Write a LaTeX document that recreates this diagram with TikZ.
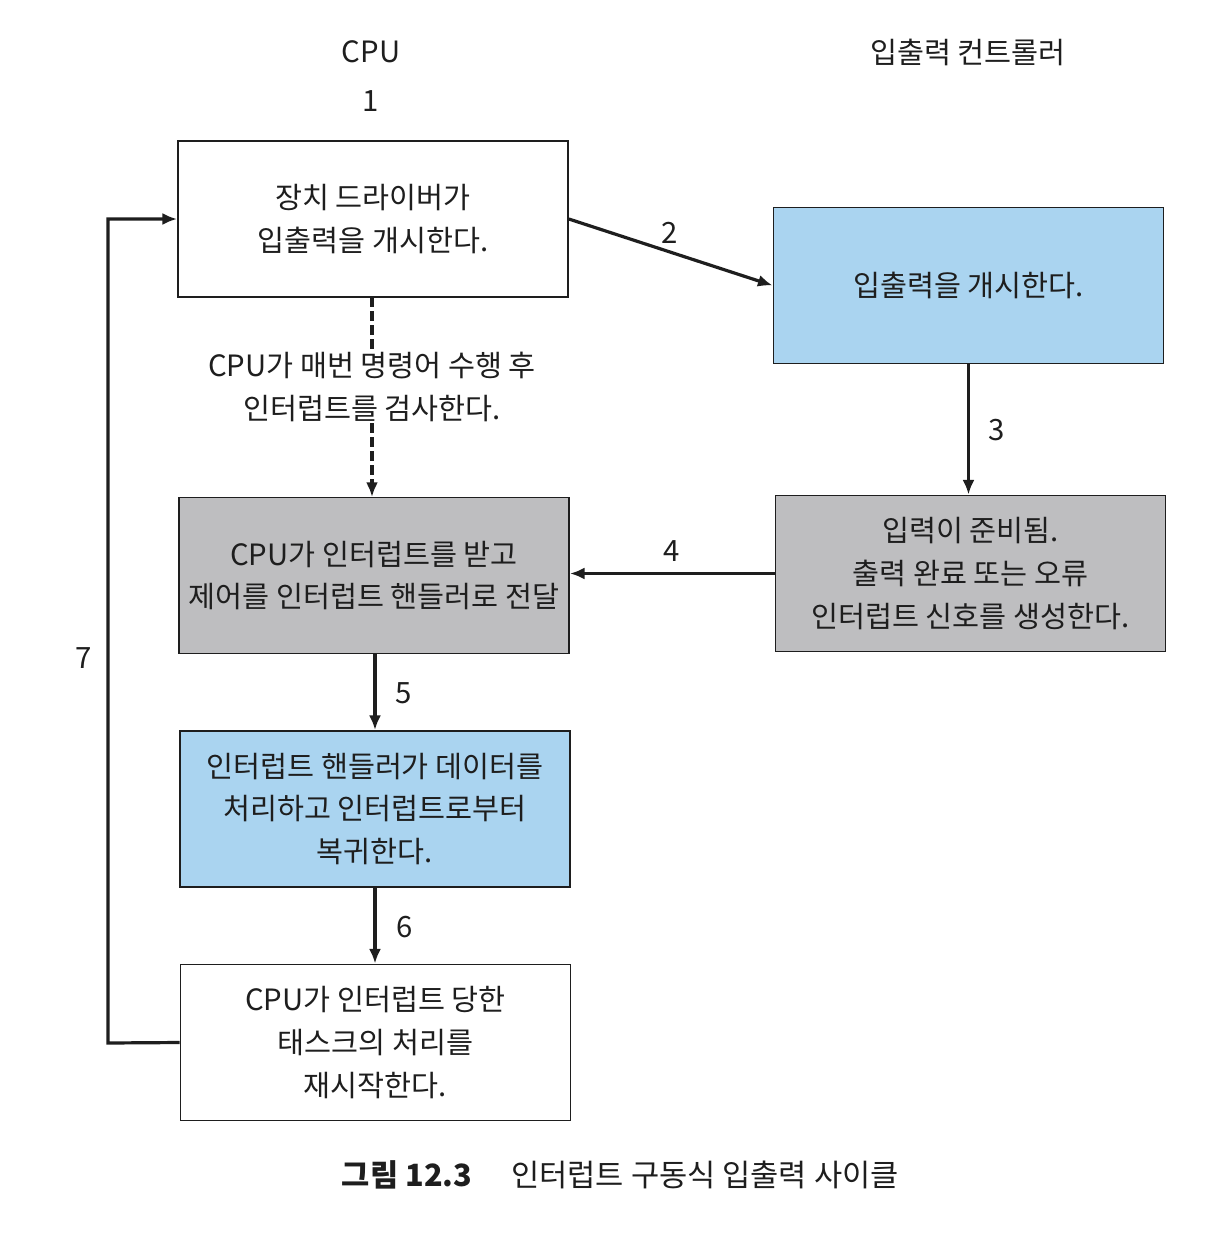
\documentclass[tikz,border=0pt]{standalone}
\usepackage{fontspec}
\setmainfont{Noto Sans CJK KR}
\usetikzlibrary{arrows.meta}
\definecolor{boxblue}{RGB}{170,212,240}
\definecolor{boxgray}{RGB}{190,190,192}
\definecolor{linecol}{RGB}{30,30,30}
\begin{document}
\begin{tikzpicture}[x=0.75pt,y=-0.75pt,
  every node/.style={font=\fontsize{22pt}{32pt}\selectfont, align=center, text=linecol},
  box/.style={draw=linecol, line width=1.3pt, inner sep=0pt, minimum width=292.5pt, minimum height=117pt},
  conn/.style={draw=linecol, line width=2.4pt, -{Latex[length=11pt,width=9pt]}},
  num/.style={font=\fontsize{22pt}{26pt}\selectfont}]
\useasboundingbox (0,0) rectangle (1218,1240);
\fill[white] (0,0) rectangle (1218,1240);

% headers
\node (hcpu) at (371,52) {CPU};
\node[num] (h1) at (371,101) {1};
\node (hio) at (968,52) {입출력 컨트롤러};

% boxes
\node[box, fill=white] (b1) at (373,219) {장치 드라이버가\\입출력을 개시한다.};
\node[box, fill=boxblue] (b2) at (968.5,285.5) {입출력을 개시한다.};
\node[box, fill=boxgray] (b3) at (970.5,573.5) {입력이 준비됨.\\출력 완료 또는 오류\\인터럽트 신호를 생성한다.};
\node[box, fill=boxgray] (b4) at (374,575.5) {CPU가 인터럽트를 받고\\제어를 인터럽트 핸들러로 전달};
\node[box, fill=boxblue] (b5) at (375,809) {인터럽트 핸들러가 데이터를\\처리하고 인터럽트로부터\\복귀한다.};
\node[box, fill=white] (b6) at (375.5,1042.5) {CPU가 인터럽트 당한\\태스크의 처리를\\재시작한다.};

% dashed check
\coordinate (dtop) at (372,297);
\coordinate (dbot) at (372,497);
\draw[draw=linecol, line width=2.4pt, dash pattern=on 7.5pt off 3pt, -{Latex[length=11pt,width=9pt]}] (dtop) -- (dbot);
\node[fill=white, inner sep=1pt] (chk) at (372,387) {CPU가 매번 명령어 수행 후\\인터럽트를 검사한다.};

% connectors
\draw[conn] (b1.east) -- (b2.west);
\draw[conn] (b2.south) -- (b2.south |- b3.north);
\draw[conn] (b3.west) -- (b4.east |- b3.west);
\draw[conn] (b4.south -| b5.north) -- (b5.north);
\draw[conn] (b5.south) -- (b5.south |- b6.north);
\coordinate (loop) at (108,1043);
\draw[conn] (b6.west) -- (loop) |- (b1.west);

% numbers
\node[num] (n2) at (670,233) {2};
\node[num] (n3) at (997,430) {3};
\node[num] (n4) at (672,551) {4};
\node[num] (n5) at (404,693) {5};
\node[num] (n6) at (405,927) {6};
\node[num] (n7) at (84,658) {7};

% caption
\node[font=\fontsize{23pt}{26pt}\selectfont\bfseries] (cap1) at (407,1175) {그림 12.3};
\node[font=\fontsize{23pt}{26pt}\selectfont] (cap2) at (705,1175) {인터럽트 구동식 입출력 사이클};
\end{tikzpicture}
\end{document}
